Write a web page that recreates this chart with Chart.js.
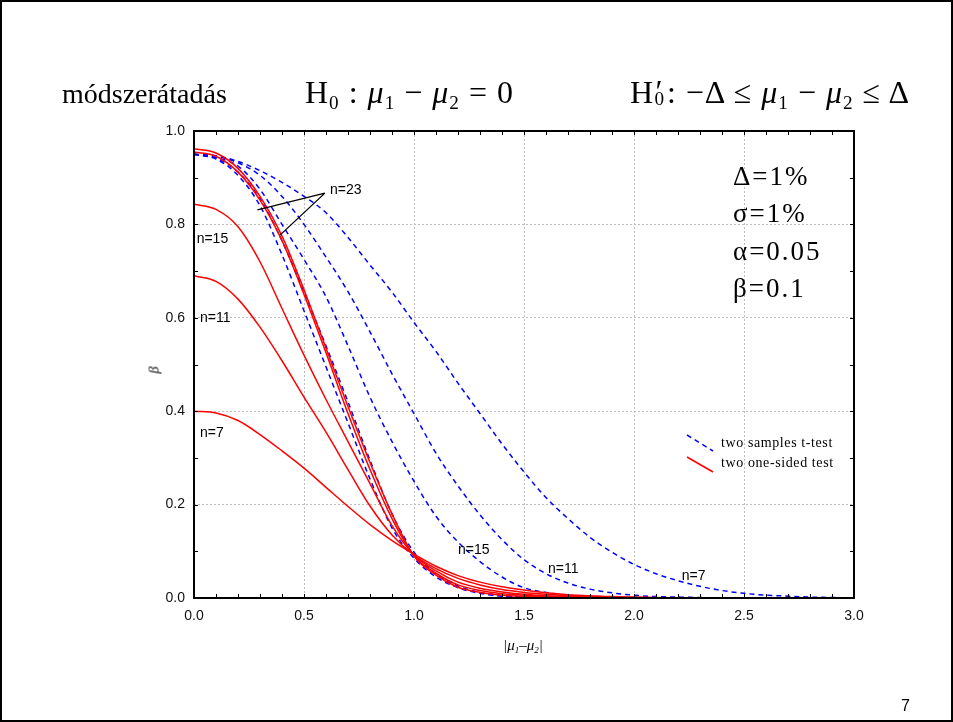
<!DOCTYPE html>
<html lang="hu">
<head>
<meta charset="UTF-8">
<title>módszerátadás</title>
<script src="https://cdn.jsdelivr.net/npm/chart.js@4.4.0/dist/chart.umd.min.js"></script>
<style>
  html, body { margin: 0; padding: 0; background: #fff; }
  #slide { position: relative; width: 953px; height: 722px; overflow: hidden; }
  #frame { position: absolute; left: 0; top: 0; width: 949px; height: 718px; border: 2px solid #000; }
  #chartBox { position: absolute; left: 0; top: 0; width: 953px; height: 722px; }
  .t { position: absolute; white-space: nowrap; color: #000; line-height: 1; font-family: "Liberation Serif", "Times New Roman", serif; }
  .t i { font-style: italic; }
  .t sub { font-size: 0.6em; vertical-align: -0.3em; }
  .math { font-size: 32px; top: 76px; letter-spacing: 1px; }
  .par { font-size: 27px; left: 733px; letter-spacing: 2px; }
  .leg { font-size: 14px; left: 721px; letter-spacing: 0.6px; }
</style>
</head>
<body>
<div id="slide">
  <div id="chartBox"><canvas id="myChart" width="953" height="722"></canvas></div>

  <!-- slide title -->
  <div class="t" style="left:62px; top:80px; font-size:28px;">módszerátadás</div>
  <div class="t math" style="left:305px;">H<sub>0</sub> : <i>μ</i><sub>1</sub> − <i>μ</i><sub>2</sub> = 0</div>
  <div class="t math" style="left:630px;">H<span style="display:inline-block; position:relative; width:0.4em; height:1em; vertical-align:top;"><span style="position:absolute; left:0.04em; top:-0.02em;">′</span><span style="position:absolute; left:0.02em; top:0.66em; font-size:0.6em;">0</span></span>: −Δ ≤ <i>μ</i><sub>1</sub> − <i>μ</i><sub>2</sub> ≤ Δ</div>

  <!-- parameters -->
  <div class="t par" style="top:163px;">Δ=1%</div>
  <div class="t par" style="top:200px;">σ=1%</div>
  <div class="t par" style="top:238px;">α=0.05</div>
  <div class="t par" style="top:275px;">β=0.1</div>

  <!-- legend text -->
  <div class="t leg" style="top:436px;">two samples t-test</div>
  <div class="t leg" style="top:456px;">two one-sided test</div>

  <!-- axis titles -->
  <div class="t" style="left:503px; top:638px; font-size:15px; font-style:italic;">|<i>μ</i><sub>1</sub>–<i>μ</i><sub>2</sub>|</div>
  <div class="t" style="left:151px; top:363px; font-size:14px; font-style:italic; transform:rotate(-90deg); transform-origin:center;">β</div>

  <!-- page number -->
  <div class="t" style="left:901px; top:698px; font-size:16px; font-family:'Liberation Sans', Arial, sans-serif;">7</div>

  <div id="frame"></div>
</div>

<script>
'use strict';

// |mu1 - mu2|
const diffs = [0, 0.1, 0.2, 0.3, 0.4, 0.5, 0.6, 0.7, 0.8, 0.9, 1.0, 1.1, 1.2, 1.3, 1.4, 1.5,
               1.6, 1.7, 1.8, 1.9, 2.0, 2.1, 2.2, 2.3, 2.4, 2.5, 2.6, 2.7, 2.8, 2.9, 3.0];

// two samples t-test (blue, dashed)
const tTestN7  = [0.95, 0.947, 0.935, 0.915, 0.89, 0.86, 0.825, 0.772, 0.713, 0.655, 0.59, 0.528, 0.46, 0.395, 0.33, 0.27,
                  0.215, 0.17, 0.13, 0.098, 0.072, 0.052, 0.037, 0.025, 0.016, 0.01, 0.006, 0.004, 0.002, 0.001, 0];
const tTestN11 = [0.95, 0.946, 0.932, 0.905, 0.86, 0.80, 0.73, 0.656, 0.57, 0.48, 0.395, 0.31, 0.24, 0.178, 0.125, 0.082,
                  0.052, 0.032, 0.019, 0.011, 0.006, 0.003, 0.002, 0.001, 0, 0, 0, 0, 0, 0, 0];
const tTestN15 = [0.95, 0.943, 0.925, 0.875, 0.80, 0.725, 0.645, 0.54, 0.43, 0.335, 0.25, 0.175, 0.12, 0.078, 0.045, 0.022,
                  0.012, 0.006, 0.003, 0.001, 0, 0, 0, 0, 0, 0, 0, 0, 0, 0, 0];
const tTestN19 = [0.95, 0.942, 0.912, 0.855, 0.765, 0.655, 0.54, 0.42, 0.295, 0.18, 0.098, 0.052, 0.026, 0.012, 0.005, 0.002,
                  0.001, 0, 0, 0, 0, 0, 0, 0, 0, 0, 0, 0, 0, 0, 0];
const tTestN23 = [0.95, 0.94, 0.905, 0.84, 0.735, 0.615, 0.495, 0.375, 0.255, 0.15, 0.085, 0.045, 0.022, 0.01, 0.004, 0.002,
                  0.001, 0, 0, 0, 0, 0, 0, 0, 0, 0, 0, 0, 0, 0, 0];

// two one-sided test (red, solid)
const tostN7  = [0.40, 0.396, 0.38, 0.35, 0.315, 0.278, 0.237, 0.196, 0.157, 0.123, 0.094, 0.068, 0.048, 0.034, 0.024, 0.017,
                 0.011, 0.007, 0.005, 0.003, 0.002, 0.001, 0, 0, 0, 0, 0, 0, 0, 0, 0];
const tostN11 = [0.69, 0.678, 0.64, 0.58, 0.508, 0.43, 0.355, 0.275, 0.197, 0.135, 0.092, 0.063, 0.042, 0.028, 0.018, 0.012,
                 0.008, 0.005, 0.003, 0.002, 0.001, 0, 0, 0, 0, 0, 0, 0, 0, 0, 0];
const tostN15 = [0.843, 0.832, 0.795, 0.72, 0.62, 0.52, 0.425, 0.335, 0.245, 0.155, 0.092, 0.058, 0.034, 0.021, 0.013, 0.008,
                 0.005, 0.003, 0.002, 0.001, 0, 0, 0, 0, 0, 0, 0, 0, 0, 0, 0];
const tostN19 = [0.955, 0.946, 0.912, 0.852, 0.765, 0.65, 0.525, 0.395, 0.275, 0.17, 0.09, 0.053, 0.028, 0.016, 0.009, 0.006,
                 0.003, 0.002, 0.001, 0, 0, 0, 0, 0, 0, 0, 0, 0, 0, 0, 0];
const tostN23 = [0.962, 0.953, 0.92, 0.86, 0.775, 0.66, 0.535, 0.41, 0.29, 0.18, 0.09, 0.049, 0.023, 0.012, 0.006, 0.004,
                 0.002, 0.001, 0, 0, 0, 0, 0, 0, 0, 0, 0, 0, 0, 0, 0];

const xTicks = [0, 0.5, 1.0, 1.5, 2.0, 2.5, 3.0];
const yTicks = [0, 0.2, 0.4, 0.6, 0.8, 1.0];

// curve labels, placed in data units
const curveLabels = [
    { text: 'n=23', x: 0.618, y: 0.874 },
    { text: 'n=15', x: 0.012, y: 0.768 },
    { text: 'n=11', x: 0.027, y: 0.600 },
    { text: 'n=7',  x: 0.027, y: 0.353 },
    { text: 'n=15', x: 1.200, y: 0.103 },
    { text: 'n=11', x: 1.609, y: 0.062 },
    { text: 'n=7',  x: 2.217, y: 0.046 }
];
// pointer lines from the n=23 label
const pointerApex = { x: 0.595, y: 0.867 };
const pointerEnds = [{ x: 0.288, y: 0.831 }, { x: 0.391, y: 0.777 }];

const sansFont = "'Liberation Sans', Arial, sans-serif";

function toPoints(ys) {
    return diffs.map((d, i) => ({ x: d, y: ys[i] }));
}

function redSet(ys) {
    return { data: toPoints(ys), borderColor: '#ff0000', borderWidth: 1.5, pointRadius: 0,
             cubicInterpolationMode: 'monotone', fill: false };
}
function blueSet(ys) {
    return { data: toPoints(ys), borderColor: '#0000ff', borderWidth: 1.5, borderDash: [5, 4], pointRadius: 0,
             cubicInterpolationMode: 'monotone', fill: false };
}

// frame, inward ticks, labels, legend glyphs
const decor = {
    id: 'decor',
    afterDatasetsDraw(chart) {
        const ctx = chart.ctx;
        const a = chart.chartArea;
        const xs = chart.scales.x, ys = chart.scales.y;
        ctx.save();

        // inward ticks every 0.1
        ctx.strokeStyle = '#000';
        ctx.lineWidth = 1;
        ctx.beginPath();
        for (let k = 0; k <= 30; k++) {
            const px = Math.round(xs.getPixelForValue(k / 10)) + 0.5;
            ctx.moveTo(px, a.bottom); ctx.lineTo(px, a.bottom - 4);
            ctx.moveTo(px, a.top); ctx.lineTo(px, a.top + 4);
        }
        for (let k = 0; k <= 10; k++) {
            const py = Math.round(ys.getPixelForValue(k / 10)) + 0.5;
            ctx.moveTo(a.left, py); ctx.lineTo(a.left + 4, py);
            ctx.moveTo(a.right, py); ctx.lineTo(a.right - 4, py);
        }
        ctx.stroke();

        // plot frame
        ctx.lineWidth = 2;
        ctx.strokeRect(a.left, a.top, a.right - a.left, a.bottom - a.top);

        // pointer lines
        ctx.lineWidth = 1.3;
        ctx.beginPath();
        pointerEnds.forEach(p => {
            ctx.moveTo(xs.getPixelForValue(pointerApex.x), ys.getPixelForValue(pointerApex.y));
            ctx.lineTo(xs.getPixelForValue(p.x), ys.getPixelForValue(p.y));
        });
        ctx.stroke();

        // curve labels
        ctx.fillStyle = '#000';
        ctx.font = '14px ' + sansFont;
        ctx.textBaseline = 'middle';
        ctx.textAlign = 'left';
        curveLabels.forEach(l => {
            ctx.fillText(l.text, xs.getPixelForValue(l.x), ys.getPixelForValue(l.y));
        });

        // legend glyphs
        ctx.lineWidth = 1.5;
        ctx.strokeStyle = '#0000ff';
        ctx.setLineDash([5, 4]);
        ctx.beginPath(); ctx.moveTo(687, 435); ctx.lineTo(713, 451); ctx.stroke();
        ctx.setLineDash([]);
        ctx.strokeStyle = '#ff0000';
        ctx.beginPath(); ctx.moveTo(687, 457); ctx.lineTo(713, 472); ctx.stroke();

        ctx.restore();
    }
};

const ctx = document.getElementById('myChart').getContext('2d');
const myChart = new Chart(ctx, {
    type: 'line',
    data: {
        datasets: [
            redSet(tostN23), redSet(tostN19), redSet(tostN15), redSet(tostN11), redSet(tostN7),
            blueSet(tTestN23), blueSet(tTestN19), blueSet(tTestN15), blueSet(tTestN11), blueSet(tTestN7)
        ]
    },
    options: {
        responsive: false,
        animation: false,
        events: [],
        layout: { padding: { left: 144, right: 99, top: 131, bottom: 84 } },
        plugins: { legend: { display: false }, tooltip: { enabled: false } },
        scales: {
            x: {
                type: 'linear', min: 0, max: 3,
                afterFit(scale) { scale.height = 40; },
                afterBuildTicks(scale) { scale.ticks = xTicks.map(v => ({ value: v })); },
                grid: { color: '#bdbdbd', lineWidth: 1, drawTicks: false },
                border: { display: false, dash: [2, 2] },
                ticks: { padding: 10, color: '#111', font: { family: sansFont, size: 14 },
                         callback: v => v.toFixed(1), maxRotation: 0 }
            },
            y: {
                type: 'linear', min: 0, max: 1,
                afterFit(scale) { scale.width = 50; },
                afterBuildTicks(scale) { scale.ticks = yTicks.map(v => ({ value: v })); },
                grid: { color: '#bdbdbd', lineWidth: 1, drawTicks: false },
                border: { display: false, dash: [2, 2] },
                ticks: { padding: 9, color: '#111', font: { family: sansFont, size: 14 },
                         callback: v => v.toFixed(1) }
            }
        }
    },
    plugins: [decor]
});
</script>
</body>
</html>
